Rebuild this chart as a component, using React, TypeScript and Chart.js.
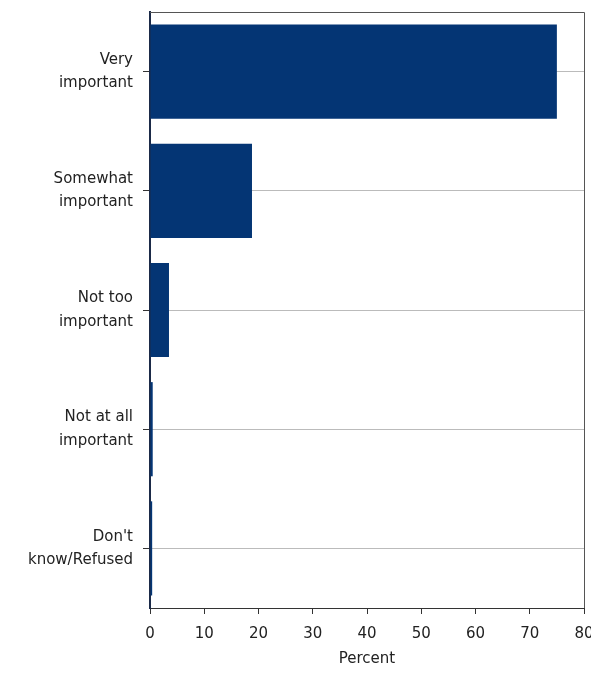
import React, { useEffect, useRef } from "react";
import { Chart, registerables } from "chart.js";

Chart.register(...registerables);

const categories: string[][] = [
  ["Very", "important"],
  ["Somewhat", "important"],
  ["Not too", "important"],
  ["Not at all", "important"],
  ["Don't", "know/Refused"],
];
const percentValues: number[] = [75, 18.8, 3.5, 0.5, 0.4];
const xTicks: number[] = [0, 10, 20, 30, 40, 50, 60, 70, 80];
const xTitle = "Percent";

const framePlugin = {
  id: "frame",
  afterDraw(chart: any) {
    const { ctx, chartArea } = chart;
    ctx.save();
    ctx.strokeStyle = "#555";
    ctx.lineWidth = 1;
    ctx.beginPath();
    ctx.moveTo(chartArea.left, chartArea.top + 0.5);
    ctx.lineTo(chartArea.right + 0.5, chartArea.top + 0.5);
    ctx.lineTo(chartArea.right + 0.5, chartArea.bottom);
    ctx.stroke();
    ctx.restore();
  },
};

export default function App() {
  const ref = useRef<HTMLCanvasElement | null>(null);
  useEffect(() => {
    if (!ref.current) return;
    const family = "'DejaVu Sans', Verdana, sans-serif";
    const chart = new Chart(ref.current, {
      type: "bar",
      data: {
        labels: categories,
        datasets: [
          {
            data: percentValues,
            backgroundColor: "#043574",
            borderWidth: 0,
            barPercentage: 1,
            categoryPercentage: 0.79,
          },
        ],
      },
      options: {
        indexAxis: "y",
        animation: false,
        responsive: false,
        layout: { padding: { top: 12, right: 7, bottom: 0, left: 0 } },
        plugins: { legend: { display: false }, tooltip: { enabled: false } },
        scales: {
          x: {
            min: 0,
            max: 80,
            afterBuildTicks: (scale: any) => {
              scale.ticks = xTicks.map((v) => ({ value: v }));
            },
            afterFit: (scale: any) => {
              scale.height = 69;
              scale.paddingLeft = 0;
              scale.paddingRight = 0;
            },
            grid: {
              drawOnChartArea: false,
              drawTicks: true,
              tickLength: 6,
              color: "#333",
            },
            border: { color: "#333", width: 1 },
            ticks: {
              color: "#222",
              font: { family, size: 15, lineHeight: 1.2 },
              padding: 11,
              maxRotation: 0,
              autoSkip: false,
            },
            title: {
              display: true,
              text: xTitle,
              color: "#222",
              font: { family, size: 15, lineHeight: 1.2 },
              padding: { top: 0, bottom: 9 },
            },
          },
          y: {
            afterFit: (scale: any) => {
              scale.width = 150;
              scale.paddingTop = 0;
              scale.paddingBottom = 0;
            },
            grid: {
              offset: false,
              drawOnChartArea: true,
              drawTicks: true,
              tickLength: 7,
              color: "#bbbbbb",
              tickColor: "#333",
            },
            border: { color: "#1b2a48", width: 2 },
            ticks: {
              color: "#222",
              font: { family, size: 15, lineHeight: 1.55 },
              padding: 10,
            },
          },
        },
      },
      plugins: [framePlugin],
    });
    return () => chart.destroy();
  }, []);
  return (
    <div style={{ position: "fixed", left: 0, top: 0, width: 591, height: 677, background: "#fff" }}>
      <canvas ref={ref} width={591} height={677} style={{ width: 591, height: 677 }} />
    </div>
  );
}
